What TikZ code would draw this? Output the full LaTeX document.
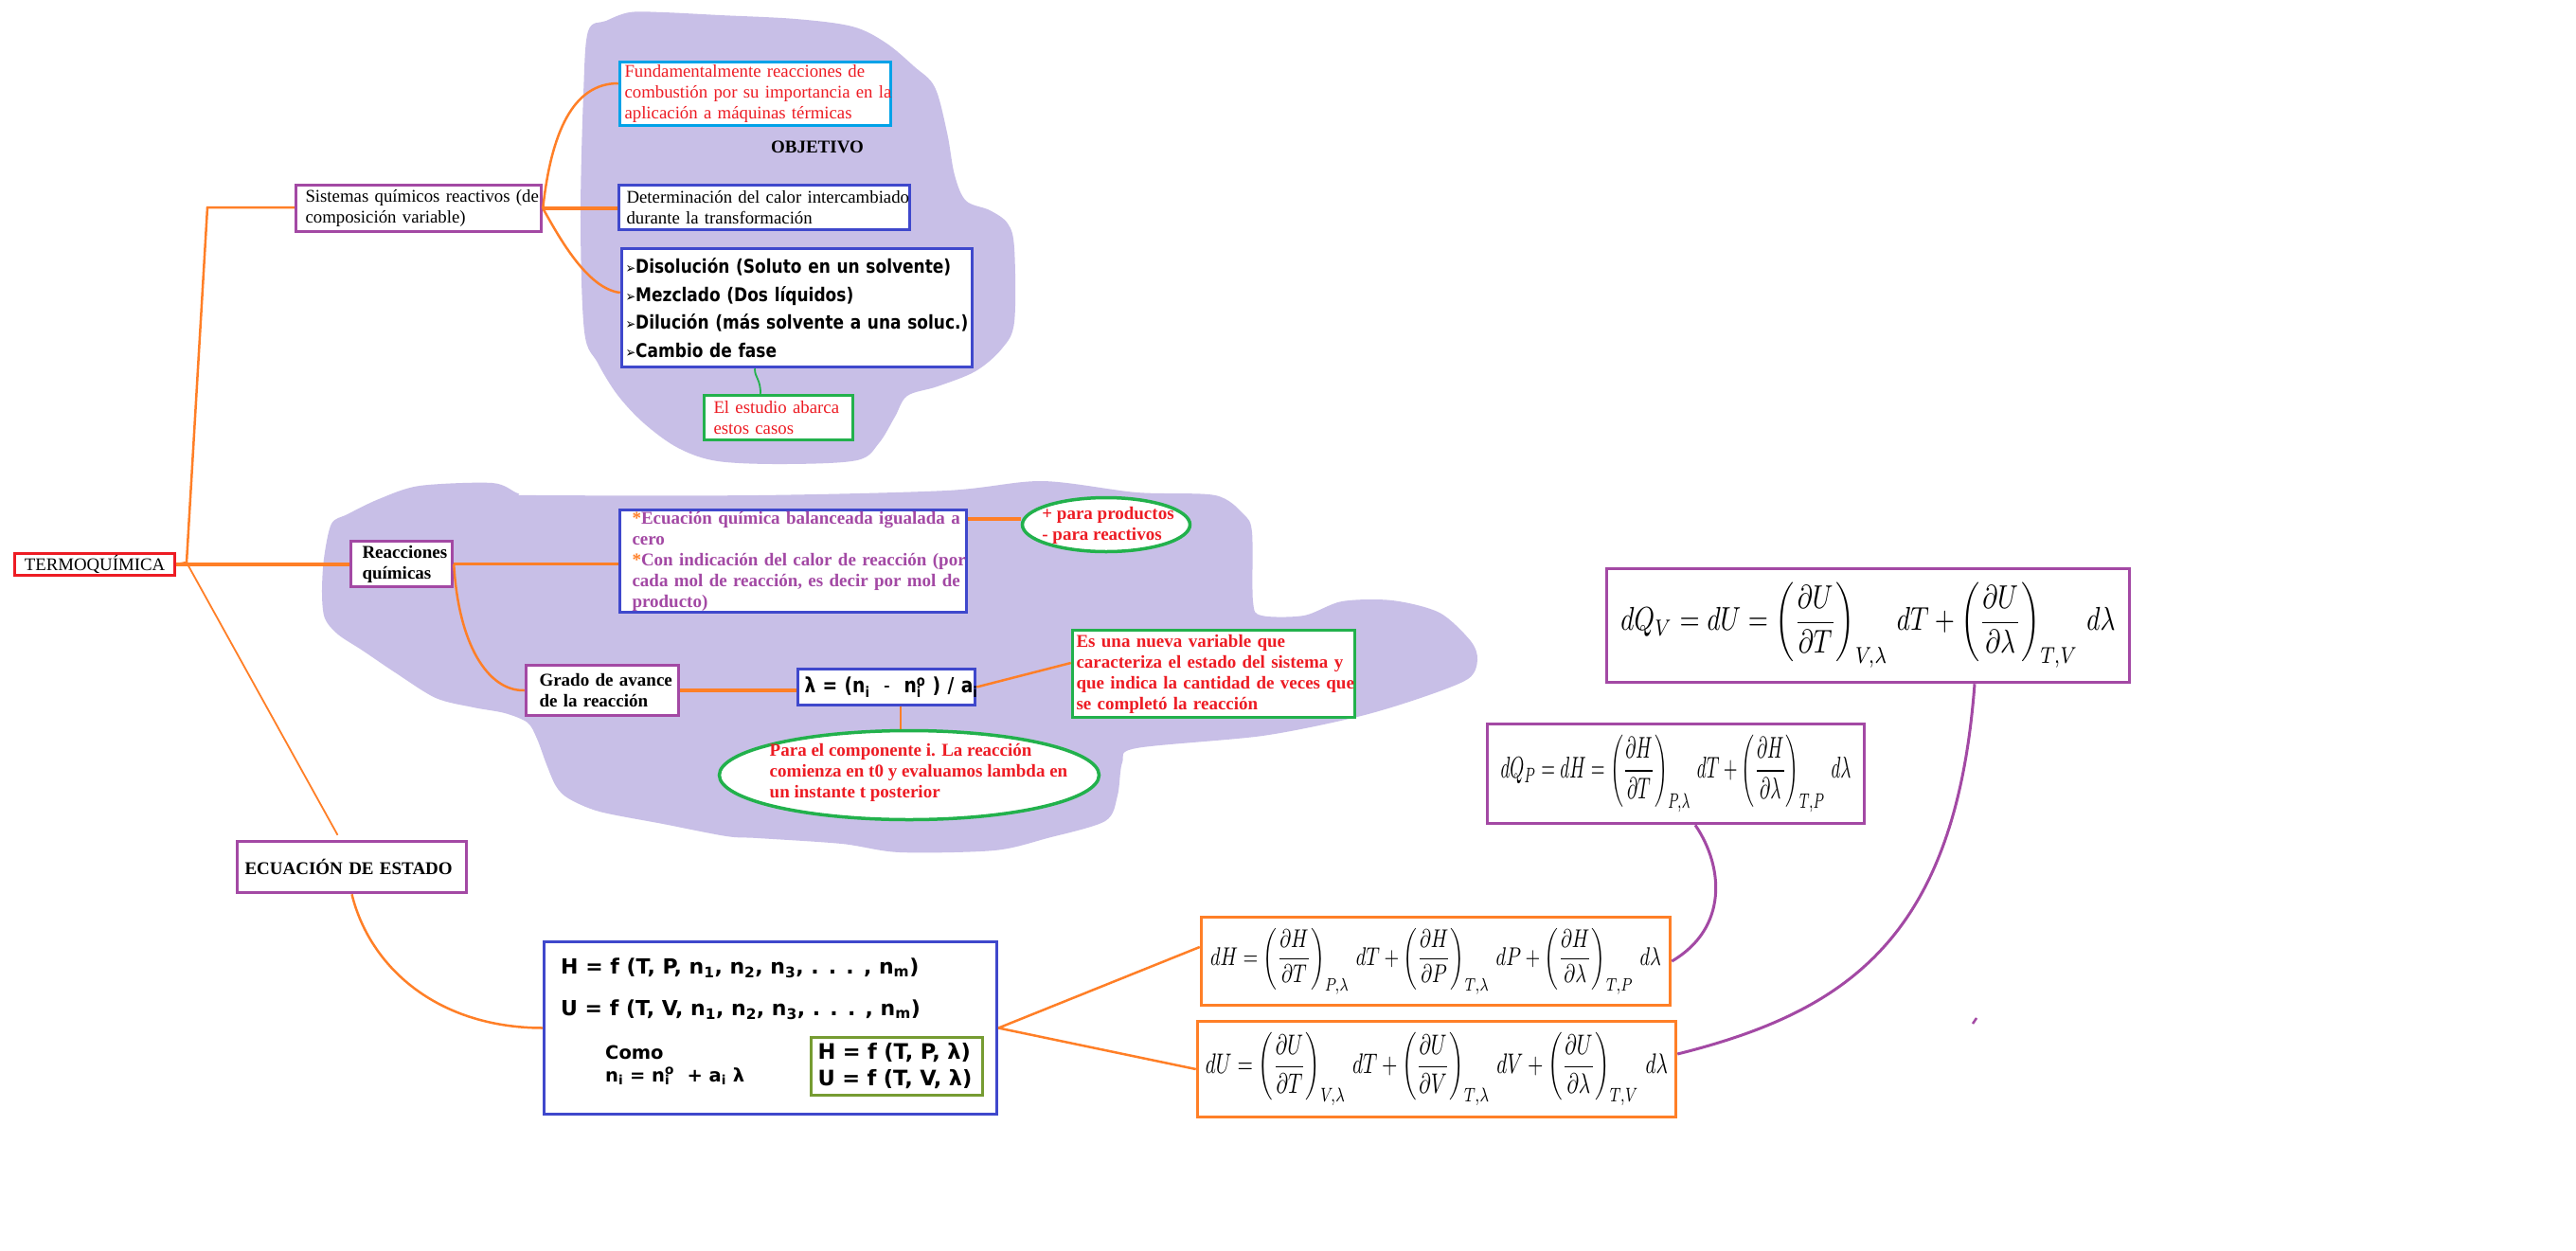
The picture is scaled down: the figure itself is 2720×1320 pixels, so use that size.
\documentclass[tikz,border=0pt]{standalone}
\usepackage{graphicx}
\usepackage[no-math]{fontspec}
\setmainfont{Liberation Serif}
\newfontfamily\tah[FakeStretch=0.85]{DejaVu Sans}
\newfontfamily\tahw{DejaVu Sans}
\usetikzlibrary{shapes.geometric,calc}
\definecolor{cOr}{RGB}{255,127,39}
\definecolor{cPu}{RGB}{163,73,164}
\definecolor{cBl}{RGB}{63,72,204}
\definecolor{cCy}{RGB}{0,162,232}
\definecolor{cRd}{RGB}{237,28,36}
\definecolor{cGr}{RGB}{34,177,76}
\definecolor{cOl}{RGB}{118,156,50}
\definecolor{cLav}{RGB}{200,191,231}
\newcommand\fsr{\fontsize{18.8}{21.7}\selectfont}
\newcommand\fsb{\fontsize{19}{22}\selectfont\bfseries}
\newcommand\fss{\tah\bfseries\fontsize{20}{29.7}\selectfont}
\newcommand\fsL{\tah\bfseries\fontsize{22}{26}\selectfont}
\newcommand\fsH{\tahw\bfseries\fontsize{22}{43}\selectfont}
\newcommand\fsC{\tahw\bfseries\fontsize{19.5}{24}\selectfont}
\newcommand\fsG{\tahw\bfseries\fontsize{22.5}{28}\selectfont}
\newcommand\lsub[1]{\textsubscript{#1}}
\newcommand\lsup[1]{\textsuperscript{#1}}
\newcommand\bul{{\mdseries\fontsize{15}{15}\selectfont ➢}}
\newcommand\oast{\textcolor{cOr}{*}}
\begin{document}
\begin{tikzpicture}[x=1pt,y=-1pt,
 bx/.style={draw, line width=3.5pt, fill=white, inner ysep=0pt, align=left},
 oval/.style={ellipse, draw=cGr, line width=3.5pt, fill=white, inner sep=0pt},
 txt/.style={inner sep=0pt, align=left},
 con/.style={draw=cOr, line width=3.5pt},
 cont/.style={draw=cOr, line width=2.5pt},
 conf/.style={draw=cOr, line width=1.8pt},
 gcon/.style={draw=cGr, line width=1.8pt},
 pcon/.style={draw=cPu, line width=3pt}]
\useasboundingbox (0,0) rectangle (2720,1320);
\fill[white] (0,0) rectangle (2720,1320);
% background blobs
\fill[cLav] plot[smooth cycle, tension=0.55] coordinates {(621,33) (640,22) (665,13) (700,13) (760,16) (840,20) (900,28) (935,45) (965,70) (987,92) (1000,140) (1008,185) (1020,212) (1045,222) (1064,236) (1071,262) (1071,340) (1058,368) (1030,392) (990,408) (958,418) (945,440) (928,468) (905,486) (830,490) (758,487) (716,473) (680,447) (652,417) (631,383) (617,350) (613,233) (616,100)};
\fill[cLav] plot[smooth cycle, tension=0.5] coordinates {(342,590) (350,553) (367,543) (400,527) (443,513) (520,510) (547,521) (567,523) (800,523) (1000,518) (1100,508) (1200,520) (1283,523) (1313,543) (1322,562) (1323,635) (1332,650) (1377,650) (1417,635) (1470,634) (1520,647) (1553,677) (1560,697) (1550,717) (1500,737) (1433,757) (1333,777) (1200,790) (1185,805) (1180,840) (1167,867) (1106,885) (1050,898) (950,900) (889,891) (800,885) (767,883) (700,870) (633,857) (600,843) (587,830) (577,807) (567,780) (557,763) (533,753) (500,747) (460,737) (417,710) (383,687) (357,670) (343,653) (340,627)};
% nodes
\node[bx, draw=cRd, minimum width=169pt, minimum height=23pt, inner xsep=0pt, align=center, font=\fsr] (termo) at (100,596) {TERMOQUÍMICA};
\node[bx, draw=cPu, minimum width=259pt, minimum height=49pt, text width=239pt, inner xsep=10pt, font=\fsr] (sist) at (442,220) {\mbox{Sistemas químicos reactivos (de}\\\mbox{composición variable)}};
\node[bx, draw=cCy, minimum width=286pt, minimum height=67pt, text width=276pt, inner xsep=5pt, font=\fsr, text=cRd] (fund) at (797.5,99) {\mbox{Fundamentalmente reacciones de}\\\mbox{combustión por su importancia en la}\\\mbox{aplicación a máquinas térmicas}};
\node[font=\fsb, inner sep=0pt] (obj) at (863,155) {OBJETIVO};
\node[bx, draw=cBl, minimum width=307pt, minimum height=47pt, text width=291pt, inner xsep=8pt, font=\fsr] (deter) at (807,219) {\mbox{Determinación del calor intercambiado}\\\mbox{durante la transformación}};
\node[bx, draw=cBl, minimum width=370pt, minimum height=125pt, text width=362pt, inner xsep=4pt, font=\fss] (disol) at (841.5,325) {\mbox{\bul Disolución (Soluto en un solvente)}\\\mbox{\bul Mezclado (Dos líquidos)}\\\mbox{\bul Dilución (más solvente a una soluc.)}\\\mbox{\bul Cambio de fase}};
\node[bx, draw=cGr, minimum width=157pt, minimum height=47pt, text width=137pt, inner xsep=10pt, font=\fsr, text=cRd] (estud) at (822,441) {\mbox{El estudio abarca}\\\mbox{estos casos}};
\node[bx, draw=cPu, minimum width=107pt, minimum height=48pt, text width=83pt, inner xsep=12pt, font=\fsb] (reac) at (424,595.5) {\mbox{Reacciones}\\\mbox{químicas}};
\node[bx, draw=cBl, minimum width=366pt, minimum height=108pt, text width=340pt, inner xsep=13pt, font=\fsb, text=cPu] (ecua) at (837.5,592.5) {\mbox{\oast Ecuación química balanceada igualada a}\\cero\\\mbox{\oast Con indicación del calor de reacción (por}\\\mbox{cada mol de reacción, es decir por mol de}\\producto)};
\node[oval, minimum width=177pt, minimum height=57pt] (prod) at (1168,554) {};
\node[txt, font=\fsb, text=cRd] (prodt) at (1170,554.5) {+ para productos\\- para reactivos};
\node[bx, draw=cPu, minimum width=161pt, minimum height=53pt, text width=133pt, inner xsep=14pt, font=\fsb] (grado) at (636,729) {\mbox{Grado de avance}\\\mbox{de la reacción}};
\node[bx, draw=cBl, minimum width=187pt, minimum height=38pt, text width=173pt, inner xsep=7pt, font=\fsL] (lam) at (936,725.5) {\mbox{λ = (n\lsub{i}\ \ {\mdseries -}\ \ n\rlap{\lsub{i}}\lsup{o} ) / a\lsub{i}}};
\node[bx, draw=cGr, minimum width=298pt, minimum height=92pt, text width=290pt, inner xsep=4pt, font=\fsb, text=cRd] (nueva) at (1281.5,711.5) {\mbox{Es una nueva variable que}\\\mbox{caracteriza el estado del sistema y}\\\mbox{que indica la cantidad de veces que}\\\mbox{se completó la reacción}};
\node[oval, minimum width=401pt, minimum height=94pt] (comp) at (960,818.5) {};
\node[txt, font=\fsb, text=cRd] (compt) at (970,816) {Para el componente i. La reacción\\comienza en t0 y evaluamos lambda en\\un instante t posterior};
\node[bx, draw=cPu, minimum width=242pt, minimum height=54pt, text width=226pt, inner xsep=8pt, font=\fsb] (estado) at (371.5,915.5) {\mbox{ECUACIÓN DE ESTADO}};
\node[bx, draw=cBl, minimum width=478pt, minimum height=182pt, inner sep=0pt] (hbox) at (813.5,1085.5) {};
\node[txt, anchor=base west, font=\fsH] (hl1) at (592,1028) {H = f (T, P, n\lsub{1}, n\lsub{2}, n\lsub{3}, . . . , n\lsub{m})};
\node[txt, anchor=base west, font=\fsH] (hl2) at (592,1072) {U = f (T, V, n\lsub{1}, n\lsub{2}, n\lsub{3}, . . . , n\lsub{m})};
\node[txt, anchor=base west, font=\fsC] (como) at (639,1118) {Como};
\node[txt, anchor=base west, font=\fsC] (nidef) at (639,1142) {n\lsub{i} = n\rlap{\lsub{i}}\lsup{o}\ \ + a\lsub{i} λ};
\node[bx, draw=cOl, minimum width=181pt, minimum height=61pt, text width=167pt, inner xsep=7pt, font=\fsG] (hlam) at (947,1126) {\mbox{H = f (T, P, λ)}\\\mbox{U = f (T, V, λ)}};
\node[bx, draw=cPu, minimum width=552pt, minimum height=120pt, inner xsep=0pt, align=center] (dqv) at (1972.5,660.5) {\resizebox*{522pt}{90pt}{$\displaystyle dQ_V = dU = \left(\frac{\partial U}{\partial T}\right)_{V,\lambda}\, dT+\left(\frac{\partial U}{\partial \lambda}\right)_{T,V}\, d\lambda$}};
\node[bx, draw=cPu, minimum width=398pt, minimum height=105pt, inner xsep=0pt, align=center] (dqp) at (1769.5,817) {\resizebox*{370pt}{82pt}{$\displaystyle dQ_P = dH = \left(\frac{\partial H}{\partial T}\right)_{P,\lambda}\, dT+\left(\frac{\partial H}{\partial \lambda}\right)_{T,P}\, d\lambda$}};
\node[bx, draw=cOr, minimum width=495pt, minimum height=93pt, inner xsep=0pt, align=center] (dh) at (1516,1015) {\resizebox*{476pt}{70pt}{$\displaystyle dH = \left(\frac{\partial H}{\partial T}\right)_{P,\lambda}\, dT+\left(\frac{\partial H}{\partial P}\right)_{T,\lambda}\, dP+\left(\frac{\partial H}{\partial \lambda}\right)_{T,P}\, d\lambda$}};
\node[bx, draw=cOr, minimum width=505pt, minimum height=101pt, inner xsep=0pt, align=center] (du) at (1517,1129) {\resizebox*{488pt}{77pt}{$\displaystyle dU = \left(\frac{\partial U}{\partial T}\right)_{V,\lambda}\, dT+\left(\frac{\partial U}{\partial V}\right)_{T,\lambda}\, dV+\left(\frac{\partial U}{\partial \lambda}\right)_{T,V}\, d\lambda$}};
% connectors
\coordinate (j) at (197,594);
\coordinate (k) at (219,219);
\draw[cont] (termo.east) -- (j) -- (k) -- (k -| sist.west);
\draw[con] (termo.east) -- (termo.east -| reac.west);
\draw[conf] (j) -- ($(estado.north)+(-15,-5)$);
\draw[cont] (sist.east) .. controls (582,140) and (605,88) .. ($(fund.west)+(0,-11)$);
\draw[con] (sist.east) -- (sist.east -| deter.west);
\draw[cont] (sist.east) .. controls (590,250) and (620,305) .. ($(disol.west)+(0,-16)$);
\draw[gcon] ($(disol.south)+(-44.5,0)$) .. controls +(0,10) and +(0,-16) .. ($(estud.north)+(-19,0)$);
\draw[con] (reac.east) -- (reac.east -| ecua.west);
\coordinate (e1) at ($(ecua.north east)+(0,11)$);
\draw[con] (e1) -- (e1 -| prod.west);
\draw[cont] (reac.east) .. controls (484,680) and (515,730) .. (grado.west);
\draw[con] (grado.east) -- (grado.east -| lam.west);
\draw[cont] (lam.east) -- ($(nueva.west)+(0,-11.5)$);
\draw[conf, line width=1.5pt] ($(lam.south)+(15,0)$) -- ($(comp.north)+(-9,0)$);
\draw[cont] (estado.south) .. controls (390,1020) and (460,1085) .. (hbox.west);
\draw[cont] (hbox.east) -- ($(dh.west)+(0,-15)$);
\draw[cont] (hbox.east) -- (du.west);
\draw[pcon] ($(dqp.south)+(20.5,0)$) .. controls (1820,915) and (1825,980) .. (dh.east);
\draw[pcon] ($(dqv.south)+(112.5,0)$) .. controls (2065,990) and (1951,1068) .. ($(du.east)+(0,-16)$);
\draw[pcon, line width=2.5pt] (2083,1081) -- (2087,1075);
\end{tikzpicture}
\end{document}
